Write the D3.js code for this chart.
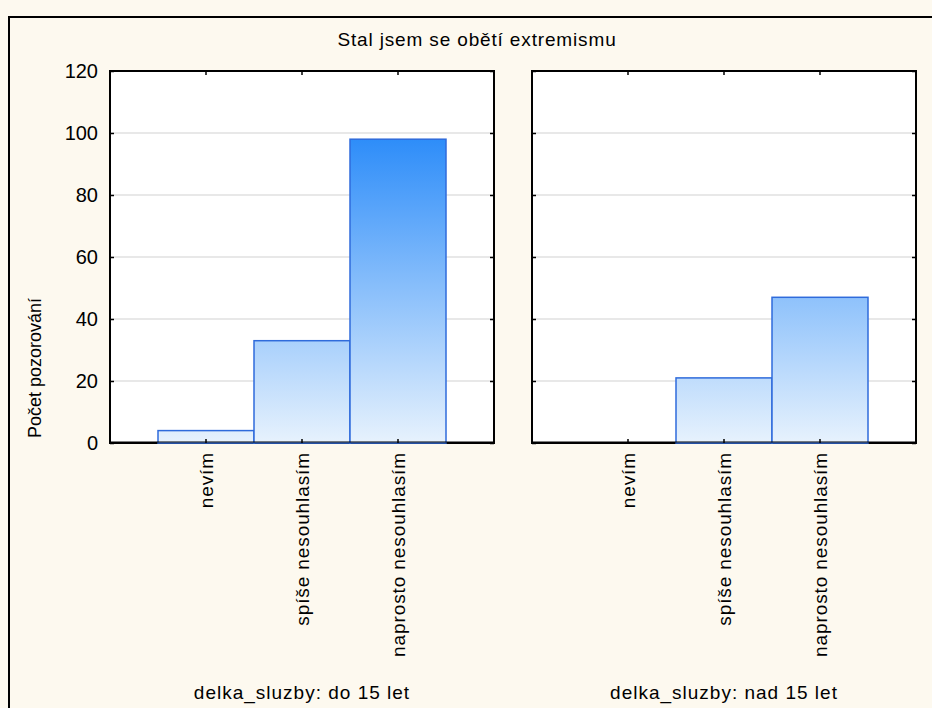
<!DOCTYPE html>
<html>
<head>
<meta charset="utf-8">
<script src="https://cdn.jsdelivr.net/npm/d3@7"></script>
<style>
    body { margin: 0; background: #fdf9ef; }
    svg { display: block; font-family: Arial, "Liberation Sans", sans-serif; }
</style>
</head>
<body>
<div id="chart"></div>
<script>
// data
var chartTitle = 'Stal jsem se obětí extremismu';
var yTitle = 'Počet pozorování';
var categories = ['nevím', 'spíše nesouhlasím', 'naprosto nesouhlasím'];
var panelLabels = ['delka_sluzby: do 15 let', 'delka_sluzby: nad 15 let'];
var countsDo15 = [4, 33, 98];
var countsNad15 = [0, 21, 47];
var yTicks = [0, 20, 40, 60, 80, 100, 120];

var width = 932;
var height = 708;

// panel geometry
var panelW = 384;
var panelTop = 71;
var panelBottom = 443;
var panelLefts = [110, 532];

var svg = d3.select('#chart').append('svg')
    .attr('width', width)
    .attr('height', height);

// background + outer frame (runs off the right and bottom)
svg.append('rect')
    .attr('x', 0).attr('y', 0)
    .attr('width', width).attr('height', height)
    .attr('fill', '#fdf9ef');
svg.append('rect')
    .attr('x', 9).attr('y', 17)
    .attr('width', width + 20).attr('height', height + 20)
    .attr('fill', 'none')
    .attr('stroke', '#000')
    .attr('stroke-width', 2);

// title
svg.append('text')
    .attr('x', 477)
    .attr('y', 46)
    .attr('text-anchor', 'middle')
    .style('font-size', '19px')
    .style('letter-spacing', '0.85px')
    .text(chartTitle);

// y axis title
svg.append('text')
    .attr('transform', 'translate(41,368) rotate(-90)')
    .attr('text-anchor', 'middle')
    .style('font-size', '18px')
    .text(yTitle);

// shared scales
var yScale = d3.scaleLinear()
    .domain([0, 120])
    .range([panelBottom, panelTop]);

var xScale = d3.scaleBand()
    .domain(categories)
    .range([0, panelW])
    .paddingInner(0)
    .paddingOuter(0.5);

// gradient follows the value scale, so short bars stay pale
var defs = svg.append('defs');
var grad = defs.append('linearGradient')
    .attr('id', 'barGrad')
    .attr('gradientUnits', 'userSpaceOnUse')
    .attr('x1', 0).attr('x2', 0)
    .attr('y1', yScale(0)).attr('y2', yScale(100));
grad.append('stop').attr('offset', '0%').attr('stop-color', '#e7f2fd');
grad.append('stop').attr('offset', '100%').attr('stop-color', '#2a8bf9');

// function to draw one panel
function drawPanel(i, counts, label){
    var px = panelLefts[i];
    var g = svg.append('g')
        .attr('transform', 'translate(' + px + ',0)');

    // plot area
    g.append('rect')
        .attr('x', 0).attr('y', panelTop)
        .attr('width', panelW).attr('height', panelBottom - panelTop)
        .attr('fill', '#fff');

    // grid lines
    g.append('g').selectAll('line')
        .data(yTicks.filter(function(d){ return d > 0 && d < 120; }))
        .enter()
        .append('line')
            .attr('x1', 0).attr('x2', panelW)
            .attr('y1', function(d){ return yScale(d); })
            .attr('y2', function(d){ return yScale(d); })
            .attr('stroke', '#e0e0e0')
            .attr('stroke-width', 1.5);

    // frame
    g.append('rect')
        .attr('x', 0).attr('y', panelTop)
        .attr('width', panelW).attr('height', panelBottom - panelTop)
        .attr('fill', 'none')
        .attr('stroke', '#000')
        .attr('stroke-width', 2);

    // bars (drawn over the frame so the zero bar still shows)
    g.append('g').selectAll('rect')
        .data(counts)
        .enter()
        .append('rect')
            .attr('x', function(d, j){ return xScale(categories[j]); })
            .attr('y', function(d){ return yScale(d); })
            .attr('width', xScale.bandwidth())
            .attr('height', function(d){ return yScale(0) - yScale(d); })
            .attr('fill', 'url(#barGrad)')
            .attr('stroke', '#2f6bdb')
            .attr('stroke-width', 1.5);

    // redraw the bottom axis line just above the bar edges
    g.append('line')
        .attr('x1', 0).attr('x2', panelW)
        .attr('y1', panelBottom - 1).attr('y2', panelBottom - 1)
        .attr('stroke', '#000')
        .attr('stroke-width', 1.2);

    // y axes, ticks inside
    var yLeft = g.append('g')
        .call(d3.axisLeft(yScale).tickValues(yTicks).tickSizeInner(-4).tickSizeOuter(0).tickPadding(12));
    yLeft.select('.domain').remove();
    yLeft.selectAll('text')
        .style('font-size', '20px')
        .attr('fill', '#000');
    if (i == 1) yLeft.selectAll('text').remove();

    var yRight = g.append('g')
        .attr('transform', 'translate(' + panelW + ',0)')
        .call(d3.axisRight(yScale).tickValues(yTicks).tickSizeInner(-4).tickSizeOuter(0).tickFormat(''));
    yRight.select('.domain').remove();

    // x axes, ticks inside
    var xTop = g.append('g')
        .attr('transform', 'translate(0,' + panelTop + ')')
        .call(d3.axisTop(xScale).tickSizeInner(-4).tickSizeOuter(0).tickFormat(''));
    xTop.select('.domain').remove();

    var xBottom = g.append('g')
        .attr('transform', 'translate(0,' + panelBottom + ')')
        .call(d3.axisBottom(xScale).tickSizeInner(-4).tickSizeOuter(0));
    xBottom.select('.domain').remove();
    xBottom.selectAll('text')
        .attr('transform', 'rotate(-90)')
        .attr('text-anchor', 'end')
        .attr('x', -9)
        .attr('y', 0)
        .attr('dy', '0.35em')
        .attr('fill', '#000')
        .style('font-size', '19px')
        .style('letter-spacing', '0.9px');
    g.selectAll('.tick line').attr('stroke', '#000').attr('stroke-width', 1.5);

    // panel label
    g.append('text')
        .attr('x', panelW / 2)
        .attr('y', 699)
        .attr('text-anchor', 'middle')
        .style('font-size', '19px')
        .style('letter-spacing', '1px')
        .text(label);
}

drawPanel(0, countsDo15, panelLabels[0]);
drawPanel(1, countsNad15, panelLabels[1]);
</script>
</body>
</html>
